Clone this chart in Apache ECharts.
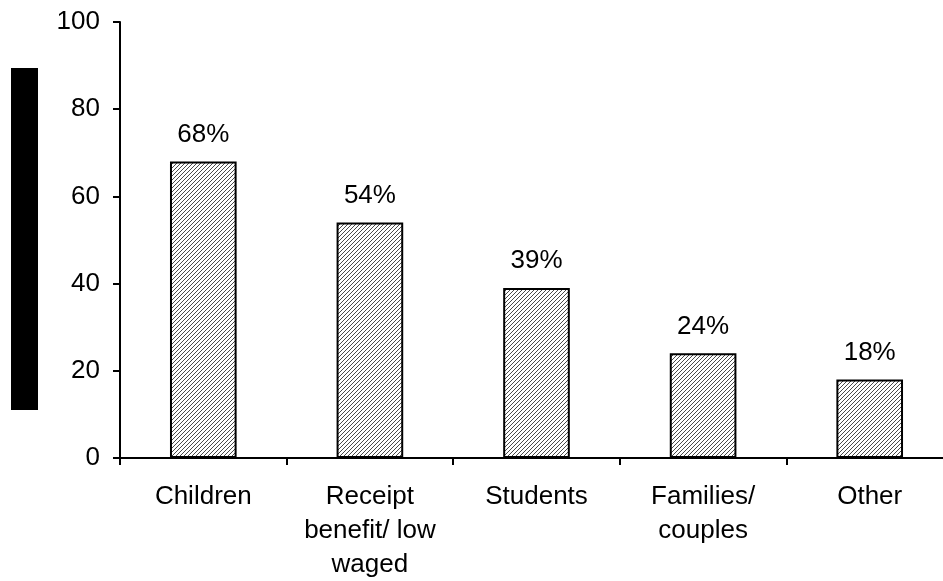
<!DOCTYPE html>
<html>
<head>
<meta charset="utf-8">
<script src="https://cdn.jsdelivr.net/npm/echarts@6/dist/echarts.min.js"></script>
<style>
  html, body { margin: 0; padding: 0; background: #fff; }
  #chart { width: 943px; height: 581px; }
</style>
</head>
<body>
<div id="chart"></div>
<script>
// Groups and their shares (%)
const categories = ['Children', 'Receipt\nbenefit/ low\nwaged', 'Students', 'Families/\ncouples', 'Other'];
const shares = [68, 54, 39, 24, 18];
const yTicks = [0, 20, 40, 60, 80, 100];

// Diagonal hatch fill for the bars
function hatchPattern() {
  const c = document.createElement('canvas');
  c.width = 4; c.height = 4;
  const ctx = c.getContext('2d');
  ctx.fillStyle = '#ffffff';
  ctx.fillRect(0, 0, 4, 4);
  ctx.fillStyle = '#4a4a4a';
  for (let i = 0; i < 4; i++) {
    ctx.fillRect(i, 3 - i, 1, 1);
  }
  return c;
}

const font = '"Liberation Sans", Arial, sans-serif';
const chart = echarts.init(document.getElementById('chart'), null, { renderer: 'canvas' });

chart.setOption({
  backgroundColor: '#ffffff',
  animation: false,
  grid: { left: 120, top: 22, bottom: 123, right: -10, outerBoundsMode: 'none', containLabel: false },
  xAxis: {
    type: 'category',
    data: categories,
    boundaryGap: true,
    axisLine: { lineStyle: { color: '#000', width: 2 } },
    axisTick: { show: true, length: 7, lineStyle: { color: '#000', width: 2 } },
    axisLabel: { color: '#000', fontFamily: font, fontSize: 26, lineHeight: 34, margin: 22, interval: 0 },
    splitLine: { show: false }
  },
  yAxis: {
    type: 'value',
    min: yTicks[0],
    max: yTicks[yTicks.length - 1],
    interval: yTicks[1] - yTicks[0],
    axisLine: { show: true, lineStyle: { color: '#000', width: 2 } },
    axisTick: { show: true, length: 7, lineStyle: { color: '#000', width: 2 } },
    axisLabel: { color: '#000', fontFamily: font, fontSize: 26, margin: 20 },
    splitLine: { show: false }
  },
  series: [{
    type: 'bar',
    data: shares,
    barWidth: '40%',
    itemStyle: {
      color: { image: hatchPattern(), repeat: 'repeat' },
      borderColor: '#000',
      borderWidth: 2
    },
    label: {
      show: true,
      position: 'top',
      distance: 14,
      formatter: '{c}%',
      color: '#000',
      fontFamily: font,
      fontSize: 26
    }
  }],
  graphic: [{
    type: 'rect',
    left: 11,
    top: 68,
    shape: { width: 27, height: 342 },
    style: { fill: '#000' }
  }]
});
</script>
</body>
</html>
